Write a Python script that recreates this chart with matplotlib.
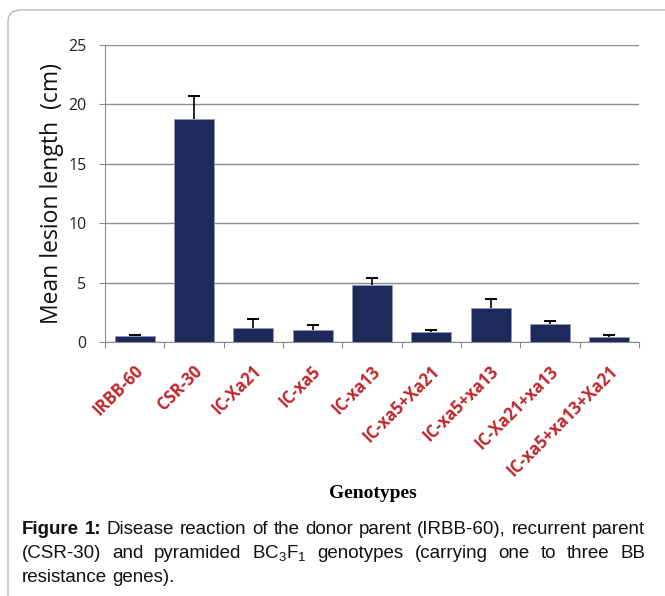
import matplotlib
matplotlib.use("Agg")
import matplotlib.pyplot as plt
from matplotlib.patches import FancyBboxPatch
from matplotlib.font_manager import FontProperties

genotypes = ["IRBB-60", "CSR-30", "IC-Xa21", "IC-xa5", "IC-xa13",
             "IC-xa5+Xa21", "IC-xa5+xa13", "IC-Xa21+xa13", "IC-xa5+xa13+Xa21"]
lesion_mean = [0.5, 18.8, 1.2, 1.05, 4.8, 0.85, 2.85, 1.55, 0.4]
lesion_err = [0.1, 1.9, 0.7, 0.35, 0.55, 0.2, 0.75, 0.2, 0.15]
y_ticks = [0, 5, 10, 15, 20, 25]

plt.rcParams["mathtext.fontset"] = "custom"
plt.rcParams["mathtext.rm"] = "Liberation Sans"
plt.rcParams["mathtext.it"] = "Liberation Sans"
plt.rcParams["mathtext.bf"] = "Liberation Sans:bold"

W, H = 665, 596
fig = plt.figure(figsize=(W / 100, H / 100), dpi=100)

# rounded frame around the figure panel
frame = FancyBboxPatch((8 / W, -20 / H), 700 / W, (H - 10 + 20) / H,
                       boxstyle="round,pad=0,rounding_size=0.02",
                       transform=fig.transFigure, facecolor="none",
                       edgecolor="#b8b8b8", linewidth=1.0)
fig.patches.append(frame)

ax = fig.add_axes([105 / W, (H - 342) / H, (639 - 105) / W, (342 - 45) / H])

x = list(range(len(genotypes)))
ax.bar(x, lesion_mean, width=0.67, color="#1f2a5c", edgecolor="#8f97b8",
       linewidth=0.6, zorder=3)
eb = ax.errorbar(x, lesion_mean, yerr=[[0] * len(x), lesion_err], fmt="none",
                 ecolor="black", elinewidth=1.2, capsize=4, capthick=1.4, zorder=4)
# only the upper whisker carries a cap
eb[1][0].set_visible(False)

ax.set_xlim(-0.5, len(genotypes) - 0.5)
ax.set_ylim(0, 25)
ax.set_yticks(y_ticks)
ax.set_yticklabels([str(v) for v in y_ticks], fontsize=11.5, family="Open Sans",
                   color="#222222")
ax.yaxis.grid(True, color="#8c8c8c", linewidth=1.0, zorder=0)
ax.set_axisbelow(True)

for s in ["top", "right"]:
    ax.spines[s].set_visible(False)
ax.spines["left"].set_color("#8c8c8c")
ax.spines["bottom"].set_color("#8c8c8c")
ax.tick_params(axis="y", length=4.3, color="#8c8c8c", pad=9)

# category boundary ticks on x
ax.set_xticks([i - 0.5 for i in range(len(genotypes) + 1)])
ax.set_xticklabels([])
ax.tick_params(axis="x", length=4.3, color="#8c8c8c")

for i, name in enumerate(genotypes):
    ax.annotate(name, xy=(i, 0), xycoords=("data", "axes fraction"),
                xytext=(4, -19), textcoords="offset points",
                rotation=45, ha="right", va="center", rotation_mode="anchor",
                fontsize=12, fontweight="bold", family="Open Sans",
                color="#c0272d")

fig.text(52 / W, 1 - 193 / H, "Mean lesion length  (cm)", rotation=90,
         ha="center", va="center", fontsize=16.5, family="Open Sans",
         color="#111111")

fig.text(373 / W, 1 - 493 / H, "Genotypes", ha="center", va="center",
         fontsize=14, fontweight="bold", family="Liberation Serif")

# justified caption below the chart
caption_lines = [
    ([("Figure", True), ("1:", True), ("Disease", False), ("reaction", False),
      ("of", False), ("the", False), ("donor", False), ("parent", False),
      ("(IRBB-60),", False), ("recurrent", False), ("parent", False)], True),
    ([("(CSR-30)", False), ("and", False), ("pyramided", False),
      (r"BC$_3$F$_1$", False), ("genotypes", False), ("(carrying", False),
      ("one", False), ("to", False), ("three", False), ("BB", False)], True),
    ([("resistance", False), ("genes).", False)], False),
]
line_y = [534, 558, 582]
x_left, x_right = 22, 645

fig.canvas.draw()
renderer = fig.canvas.get_renderer()


def measure(s, size, is_bold):
    fp = FontProperties(family="Liberation Sans", size=size,
                        weight="bold" if is_bold else "normal")
    t = fig.text(0, 0, s, fontproperties=fp)
    w = t.get_window_extent(renderer).width
    t.remove()
    return w


# pick the caption size so the first line fills the column with plain spaces
base = 12.0
space = measure("a a", base, False) - measure("aa", base, False)
first = caption_lines[0][0]
natural = sum(measure(w, base, b) for w, b in first) + space * (len(first) - 1)
cap_size = base * (x_right - x_left) / natural

for (words, justify), yy in zip(caption_lines, line_y):
    items = []
    for w, is_bold in words:
        fp = FontProperties(family="Liberation Sans", size=cap_size,
                            weight="bold" if is_bold else "normal")
        t = fig.text(0, 1 - yy / H, w, fontproperties=fp, ha="left",
                     va="baseline", color="#111111")
        items.append(t)
    widths = [t.get_window_extent(renderer).width for t in items]
    if justify and len(items) > 1:
        gap = (x_right - x_left - sum(widths)) / (len(items) - 1)
    else:
        gap = space * cap_size / base
    cx = x_left
    for t, wdt in zip(items, widths):
        t.set_x(cx / W)
        cx += wdt + gap

fig.savefig("out.png", dpi=100)
